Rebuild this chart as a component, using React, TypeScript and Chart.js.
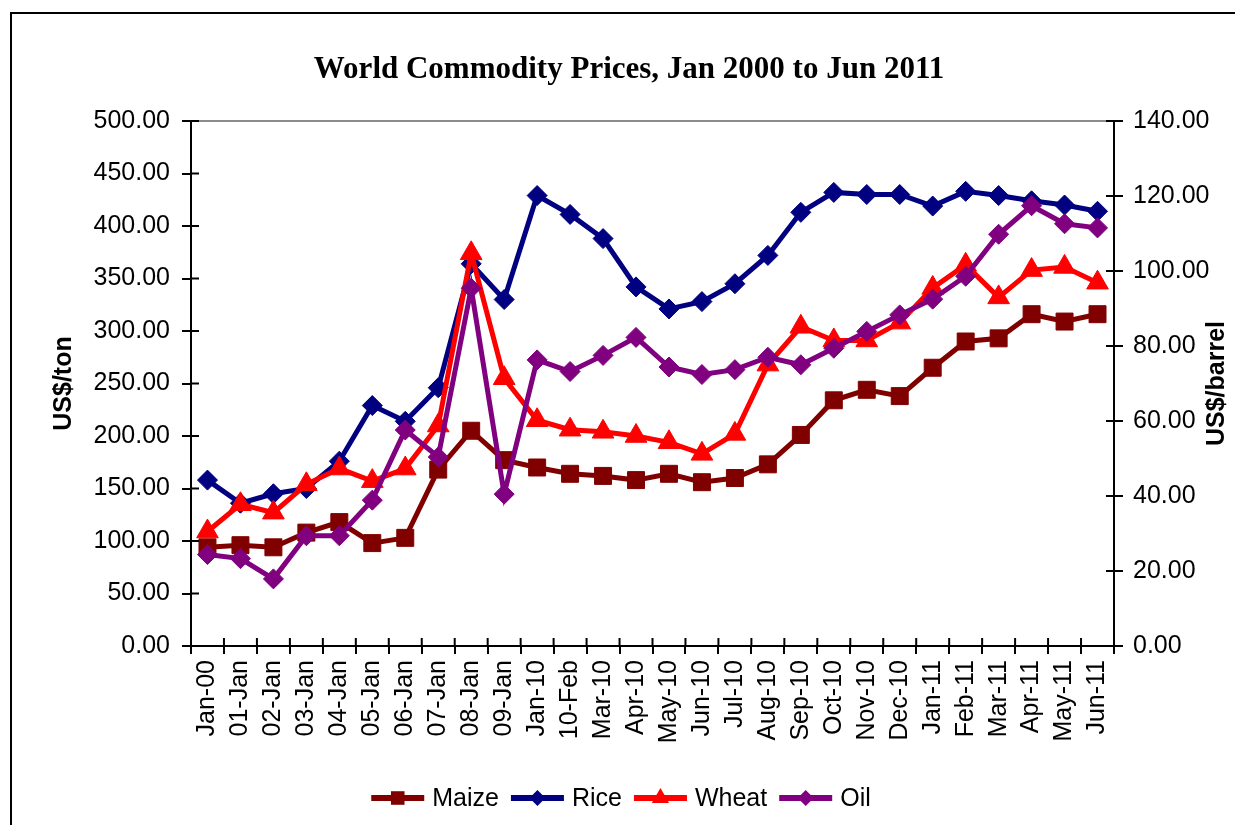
import { useEffect, useRef } from "react";
import { Chart, registerables } from "chart.js";

Chart.register(...registerables);

// Category labels along the bottom axis
const months = [
  "Jan-00", "01-Jan", "02-Jan", "03-Jan", "04-Jan", "05-Jan", "06-Jan", "07-Jan", "08-Jan", "09-Jan",
  "Jan-10", "10-Feb", "Mar-10", "Apr-10", "May-10", "Jun-10", "Jul-10", "Aug-10", "Sep-10", "Oct-10",
  "Nov-10", "Dec-10", "Jan-11", "Feb-11", "Mar-11", "Apr-11", "May-11", "Jun-11",
];

// Grain prices, US$/ton (left axis)
const maize = [94, 96, 94, 108, 118, 98, 103, 168, 205, 177, 170, 164, 162, 158, 164, 156, 160, 173, 201, 234, 244, 238, 265, 290, 293, 316, 309, 316];
const rice = [158, 136, 145, 150, 176, 229, 214, 246, 364, 330, 429, 411, 388, 342, 321, 328, 345, 372, 413, 432, 430, 430, 419, 433, 429, 424, 420, 414];
const wheat = [109, 135, 127, 154, 169, 157, 169, 210, 374, 255, 215, 206, 204, 200, 194, 183, 202, 268, 304, 291, 291, 308, 341, 363, 332, 358, 361, 346];

// Crude oil, US$/barrel (right axis)
const oil = [24.4, 23.3, 17.9, 29.4, 29.4, 38.9, 57.6, 50.4, 95.4, 40.5, 76.3, 73.2, 77.5, 82.3, 74.4, 72.4, 73.7, 77.0, 75.0, 79.4, 83.9, 88.3, 92.5, 98.6, 109.8, 117.4, 112.6, 111.5];

const chartTitle = "World Commodity Prices, Jan 2000 to Jun 2011";
const leftTitle = "US$/ton";
const rightTitle = "US$/barrel";

const SANS = "'Liberation Sans', Arial, sans-serif";
const SERIF = "'Liberation Serif', 'Times New Roman', serif";
const FONT_SIZE = 25;

const COLORS = {
  maize: "#800000",
  rice: "#000080",
  wheat: "#ff0000",
  oil: "#800080",
};

function drawMarker(ctx: CanvasRenderingContext2D, style: string, x: number, y: number, r: number) {
  ctx.beginPath();
  if (style === "rect") {
    const s = r * Math.SQRT1_2;
    ctx.rect(x - s, y - s, 2 * s, 2 * s);
  } else if (style === "rectRot") {
    ctx.moveTo(x, y - r);
    ctx.lineTo(x + r, y);
    ctx.lineTo(x, y + r);
    ctx.lineTo(x - r, y);
    ctx.closePath();
  } else {
    ctx.moveTo(x, y - r);
    ctx.lineTo(x + r * Math.sin((2 * Math.PI) / 3), y + r / 2);
    ctx.lineTo(x - r * Math.sin((2 * Math.PI) / 3), y + r / 2);
    ctx.closePath();
  }
  ctx.fill();
}

const decorations = {
  id: "decorations",
  beforeDraw(chart: any) {
    const { ctx, width, height } = chart;
    ctx.save();
    ctx.fillStyle = "#ffffff";
    ctx.fillRect(0, 0, width, height);
    ctx.restore();
  },
  afterDraw(chart: any) {
    const { ctx, width, height, chartArea: a, scales } = chart;
    ctx.save();

    // outer frame (left and top edges)
    ctx.strokeStyle = "#000";
    ctx.lineWidth = 2;
    ctx.beginPath();
    ctx.moveTo(11, height);
    ctx.lineTo(11, 13);
    ctx.lineTo(width, 13);
    ctx.stroke();

    // plot area top edge
    ctx.strokeStyle = "#8c8c8c";
    ctx.lineWidth = 2;
    ctx.beginPath();
    ctx.moveTo(a.left, a.top);
    ctx.lineTo(a.right, a.top);
    ctx.stroke();

    // inner halves of the tick marks, so they cross the axis lines
    ctx.strokeStyle = "#000";
    ctx.lineWidth = 2;
    ctx.beginPath();
    scales.y.ticks.forEach((_t: any, i: number) => {
      const py = scales.y.getPixelForTick(i);
      ctx.moveTo(a.left, py);
      ctx.lineTo(a.left + 8, py);
    });
    scales.y1.ticks.forEach((_t: any, i: number) => {
      const py = scales.y1.getPixelForTick(i);
      ctx.moveTo(a.right - 8, py);
      ctx.lineTo(a.right, py);
    });
    for (let i = 0; i <= months.length; i++) {
      const px = scales.x.getPixelForValue(i - 0.5);
      ctx.moveTo(px, a.bottom);
      ctx.lineTo(px, a.bottom - 8);
    }
    ctx.stroke();

    // chart title
    ctx.fillStyle = "#000";
    ctx.font = `bold 31px ${SERIF}`;
    ctx.textAlign = "center";
    ctx.textBaseline = "alphabetic";
    ctx.fillText(chartTitle, 629, 78);

    // axis titles, both reading bottom-to-top
    const midY = (a.top + a.bottom) / 2;
    ctx.font = `bold ${FONT_SIZE}px ${SANS}`;
    ctx.textBaseline = "middle";
    ctx.save();
    ctx.translate(64, midY);
    ctx.rotate(-Math.PI / 2);
    ctx.fillText(leftTitle, 0, 0);
    ctx.restore();
    ctx.save();
    ctx.translate(1217, midY);
    ctx.rotate(-Math.PI / 2);
    ctx.fillText(rightTitle, 0, 0);
    ctx.restore();

    // legend: line segment with marker, then the series name
    ctx.font = `${FONT_SIZE}px ${SANS}`;
    ctx.textAlign = "left";
    const lineLen = 53;
    const textGap = 8;
    const itemGap = 12;
    const items = chart.data.datasets.map((ds: any) => ({
      label: ds.label,
      color: ds.borderColor,
      style: ds.pointStyle,
      r: ds.pointRadius,
      w: ctx.measureText(ds.label).width,
    }));
    const total = items.reduce((s: number, it: any) => s + lineLen + textGap + it.w, 0) + itemGap * (items.length - 1);
    let x = 621 - total / 2;
    const ly = 798;
    items.forEach((it: any) => {
      ctx.strokeStyle = it.color;
      ctx.fillStyle = it.color;
      ctx.lineWidth = 6;
      ctx.beginPath();
      ctx.moveTo(x, ly);
      ctx.lineTo(x + lineLen, ly);
      ctx.stroke();
      drawMarker(ctx, it.style, x + lineLen / 2, ly, it.r * 0.8);
      ctx.fillStyle = "#000";
      ctx.fillText(it.label, x + lineLen + textGap, ly + 1);
      x += lineLen + textGap + it.w + itemGap;
    });

    ctx.restore();
  },
};

export default function App() {
  const canvasRef = useRef<HTMLCanvasElement | null>(null);

  useEffect(() => {
    document.body.style.margin = "0";
    const canvas = canvasRef.current;
    if (!canvas) return;

    const series = (label: string, data: number[], color: string, pointStyle: string, pointRadius: number, axis: string, order: number) => ({
      label,
      data,
      yAxisID: axis,
      order,
      borderColor: color,
      backgroundColor: color,
      pointBackgroundColor: color,
      pointBorderColor: color,
      pointBorderWidth: 1,
      borderWidth: 5,
      pointStyle,
      pointRadius,
      tension: 0,
      fill: false,
    });

    const tickFont = { family: SANS, size: FONT_SIZE };

    const chart = new Chart(canvas, {
      type: "line",
      data: {
        labels: months,
        datasets: [
          series("Maize", maize, COLORS.maize, "rect", 12, "y", 4),
          series("Rice", rice, COLORS.rice, "rectRot", 10, "y", 3),
          series("Wheat", wheat, COLORS.wheat, "triangle", 12.5, "y", 2),
          series("Oil", oil, COLORS.oil, "rectRot", 10, "y1", 1),
        ] as any,
      },
      options: {
        responsive: false,
        animation: false,
        devicePixelRatio: 1,
        layout: { padding: { top: 121, left: 0, right: 0, bottom: 0 } },
        plugins: {
          legend: { display: false },
          title: { display: false },
          tooltip: { enabled: false },
        },
        scales: {
          x: {
            type: "category",
            offset: true,
            grid: { drawOnChartArea: false, offset: true, color: "#000", lineWidth: 2, tickLength: 8 },
            border: { display: true, color: "#000", width: 2 },
            ticks: { autoSkip: false, maxRotation: 90, minRotation: 90, padding: 6, color: "#000", font: tickFont },
            afterFit: (s: any) => { s.height = 179; },
          },
          y: {
            position: "left",
            min: 0,
            max: 500,
            grid: { drawOnChartArea: false, color: "#000", lineWidth: 2, tickLength: 9 },
            border: { display: true, color: "#000", width: 2 },
            ticks: { stepSize: 50, padding: 12, color: "#000", font: tickFont, callback: (v: any) => Number(v).toFixed(2) },
            afterFit: (s: any) => { s.width = 191; },
          },
          y1: {
            position: "right",
            min: 0,
            max: 140,
            grid: { drawOnChartArea: false, color: "#000", lineWidth: 2, tickLength: 9 },
            border: { display: true, color: "#000", width: 2 },
            ticks: { stepSize: 20, padding: 10, color: "#000", font: tickFont, callback: (v: any) => Number(v).toFixed(2) },
            afterFit: (s: any) => { s.width = 121; },
          },
        },
      } as any,
      plugins: [decorations],
    });

    return () => chart.destroy();
  }, []);

  return (
    <div style={{ width: 1235, height: 825 }}>
      <canvas ref={canvasRef} width={1235} height={825} style={{ display: "block" }} />
    </div>
  );
}
